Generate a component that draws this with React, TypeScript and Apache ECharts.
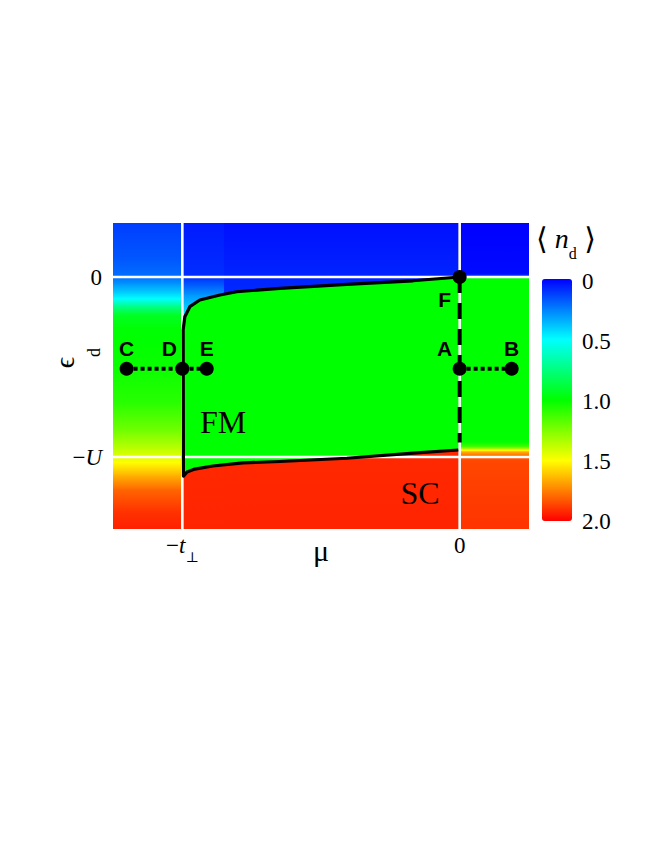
import React, { useEffect, useRef } from 'react';
import * as echarts from 'echarts';

// ---------- axes ----------
const MU_MIN = -1.25;
const MU_MAX = 0.25;
const EPS_MIN = -1.4;
const EPS_MAX = 0.3;
const xTickValues = [-1, 0];
const yTickValues = [0, -1];
const colorbarTicks = [0, 0.5, 1.0, 1.5, 2.0];
const colorStops = ['#0000ff', '#00ffff', '#00ff00', '#ffff00', '#ff0000'];

// ---------- <n_d> background, column bands (mu edges) ----------
const bandEdges = [-1.25, -1.0, -0.85, 0, 0.25];
// band 1: mu < -t
const leftEps = [0.3, 0.1, 0.0, -0.04, -0.09, -0.12, -0.16, -0.21, -0.28, -0.5, -0.7, -0.85, -0.96, -1.0, -1.03, -1.1, -1.18, -1.3, -1.4];
const leftN = [0.12, 0.17, 0.22, 0.3, 0.42, 0.5, 0.72, 0.93, 0.99, 1.02, 1.08, 1.22, 1.38, 1.45, 1.5, 1.65, 1.8, 1.9, 1.94];
// band 2: just right of -t
const kinkEps = [0.3, 0.0, -0.1, -0.2, -0.3, -0.35, -0.97, -0.98, -1.4];
const kinkN = [0.05, 0.09, 0.3, 0.45, 0.6, 1.0, 1.0, 1.92, 1.93];
// band 3: -t < mu < 0
const midEps = [0.3, 0.0, -0.1, -0.11, -0.95, -0.96, -1.4];
const midN = [0.03, 0.07, 0.08, 1.0, 1.0, 1.92, 1.93];
// band 4: mu > 0
const rightEps = [0.3, 0.02, 0.003, -0.003, -0.915, -0.94, -0.955, -0.97, -0.99, -1.02, -1.4];
const rightN = [0.0, 0.02, 0.15, 1.0, 1.0, 1.12, 1.4, 1.65, 1.8, 1.86, 1.9];

// ---------- FM phase boundary ----------
const boundaryMu = [0, -0.168, -0.407, -0.648, -0.804, -0.864, -0.937, -0.973, -0.991, -0.997, -0.996, -0.983, -0.955, -0.89, -0.781, -0.648, -0.407, -0.167, -0.005];
const boundaryEps = [0, -0.021, -0.041, -0.063, -0.082, -0.1, -0.128, -0.165, -0.221, -0.294, -1.106, -1.083, -1.067, -1.05, -1.033, -1.025, -1.007, -0.979, -0.961];
const fmN = 1.0;
const dashedMu = [0, 0];
const dashedEps = [0, -0.92];

// ---------- marked points ----------
const pointNames = ['C', 'D', 'E', 'A', 'B', 'F'];
const pointMu = [-1.201, -1.0, -0.912, 0, 0.1875, 0];
const pointEps = [-0.51, -0.51, -0.51, -0.51, -0.51, 0];
const dottedLeftMu = [-1.201, -0.912];
const dottedRightMu = [0, 0.1875];
const dottedEps = [-0.51, -0.51];

// ---------- region names ----------
const regionNames = ['FM', 'SC'];
const regionMu = [-0.853, -0.143];
const regionEps = [-0.806, -1.2];

// ---------- styles ----------
const SERIF = '"Liberation Serif", "Times New Roman", "DejaVu Serif", serif';
const SANS = '"Liberation Sans", Arial, sans-serif';
const labelPlacement: Record<string, any> = {
  C: { position: 'top', distance: 3, offset: [0, 0] },
  D: { position: 'top', distance: 3, offset: [-13, 0] },
  E: { position: 'top', distance: 3, offset: [0, 0] },
  A: { position: 'top', distance: 3, offset: [-15, 0] },
  B: { position: 'top', distance: 3, offset: [0, 0] },
  F: { position: 'bottom', distance: 5, offset: [-15, 0] },
};

function hexToRgb(h: string) {
  return [parseInt(h.slice(1, 3), 16), parseInt(h.slice(3, 5), 16), parseInt(h.slice(5, 7), 16)];
}
function nColor(v: number) {
  const t = Math.max(0, Math.min(2, v)) / 0.5;
  const i = Math.min(3, Math.floor(t));
  const f = t - i;
  const a = hexToRgb(colorStops[i]);
  const b = hexToRgb(colorStops[i + 1]);
  const c = a.map((x, k) => Math.round(x + (b[k] - x) * f));
  return `rgb(${c[0]},${c[1]},${c[2]})`;
}

function bandCells(m0: number, m1: number, eps: number[], n: number[]) {
  const out: number[][] = [];
  for (let i = 0; i < eps.length - 1; i++) {
    out.push([m0, m1, eps[i], eps[i + 1], n[i], n[i + 1]]);
  }
  return out;
}

export default function App() {
  const ref = useRef<HTMLDivElement>(null);
  useEffect(() => {
    document.body.style.margin = '0';
    const chart = echarts.init(ref.current!, null, { renderer: 'svg' });

    const profiles = [
      [leftEps, leftN],
      [kinkEps, kinkN],
      [midEps, midN],
      [rightEps, rightN],
    ];
    const cells: number[][] = [];
    profiles.forEach((p, k) => {
      cells.push(...bandCells(bandEdges[k], bandEdges[k + 1], p[0], p[1]));
    });

    const whiteLine = (data: number[][]) => ({
      type: 'line',
      data,
      z: 3,
      silent: true,
      showSymbol: false,
      symbol: 'none',
      lineStyle: { color: '#ffffff', width: 2.6 },
    });

    const option: any = {
      animation: false,
      grid: [
        { left: 113, top: 223, width: 416, height: 306 },
        { left: 542, top: 281, width: 30, height: 240 },
      ],
      xAxis: [
        {
          type: 'value',
          min: MU_MIN,
          max: MU_MAX,
          gridIndex: 0,
          axisLine: { show: false },
          axisTick: { show: false },
          splitLine: { show: false },
          name: 'μ',
          nameLocation: 'middle',
          nameGap: 6,
          nameMoveOverlap: false,
          nameTextStyle: { fontFamily: SERIF, fontSize: 30, color: '#000' },
          axisLabel: {
            customValues: xTickValues,
            margin: -2,
            formatter: (v: number) => (v === 0 ? '{m|0}' : '{m|−}{t|t}{s|⊥}'),
            rich: {
              m: { fontFamily: SERIF, fontSize: 23, lineHeight: 37, verticalAlign: 'middle', color: '#000' },
              t: { fontFamily: SERIF, fontSize: 23, lineHeight: 37, verticalAlign: 'middle', fontStyle: 'italic', color: '#000' },
              s: { fontFamily: SERIF, fontSize: 14, lineHeight: 14, verticalAlign: 'bottom', color: '#000' },
            },
          },
        },
        { type: 'value', gridIndex: 1, min: 0, max: 1, show: false },
      ],
      yAxis: [
        {
          type: 'value',
          min: EPS_MIN,
          max: EPS_MAX,
          gridIndex: 0,
          axisLine: { show: false },
          axisTick: { show: false },
          splitLine: { show: false },
          axisLabel: {
            customValues: yTickValues,
            margin: 11,
            formatter: (v: number) => (v === 0 ? '{m|0}' : '{m|−}{u|U}'),
            rich: {
              m: { fontFamily: SERIF, fontSize: 23, color: '#000' },
              u: { fontFamily: SERIF, fontSize: 23, fontStyle: 'italic', color: '#000' },
            },
          },
        },
        {
          type: 'value',
          gridIndex: 1,
          min: 0,
          max: 2,
          inverse: true,
          position: 'right',
          axisLine: { show: false },
          axisTick: { show: false },
          splitLine: { show: false },
          axisLabel: {
            customValues: colorbarTicks,
            margin: 10,
            fontFamily: SERIF,
            fontSize: 23,
            color: '#000',
            formatter: (v: number) => (v === 0 ? '0' : v.toFixed(1)),
          },
        },
      ],
      visualMap: {
        type: 'continuous',
        min: 0,
        max: 2,
        inverse: true,
        orient: 'vertical',
        left: 542,
        top: 279,
        padding: 0,
        itemWidth: 30,
        itemHeight: 242,
        calculable: false,
        seriesIndex: 0,
        dimension: 4,
        inRange: { color: colorStops },
      },
      graphic: [
        {
          type: 'text',
          x: 64,
          y: 362.5,
          rotation: Math.PI / 2,
          style: { text: 'ϵ', font: `28px ${SERIF}`, fill: '#000', align: 'center', verticalAlign: 'middle', textAlign: 'center', textVerticalAlign: 'middle' },
        },
        {
          type: 'text',
          x: 94,
          y: 352.5,
          rotation: Math.PI / 2,
          style: { text: 'd', font: `18px ${SERIF}`, fill: '#000', align: 'center', verticalAlign: 'middle', textAlign: 'center', textVerticalAlign: 'middle' },
        },
        {
          type: 'text',
          x: 566,
          y: 238.5,
          style: {
            text: '{b|⟨}{n| n}{d|d}{b| ⟩}',
            align: 'center',
            verticalAlign: 'middle',
            textAlign: 'center',
            textVerticalAlign: 'middle',
            rich: {
              b: { fontFamily: SERIF, fontSize: 30, lineHeight: 46, verticalAlign: 'middle', fill: '#000', color: '#000' },
              n: { fontFamily: SERIF, fontSize: 28, lineHeight: 46, verticalAlign: 'middle', fontStyle: 'italic', fill: '#000', color: '#000' },
              d: { fontFamily: SERIF, fontSize: 16, lineHeight: 16, verticalAlign: 'bottom', fill: '#000', color: '#000' },
            },
          },
        },
      ],
      series: [
        {
          type: 'custom',
          name: 'nd',
          z: 1,
          clip: true,
          silent: true,
          encode: { x: [0, 1], y: [2, 3] },
          data: cells,
          renderItem: (params: any, api: any) => {
            const m0 = api.value(0), m1 = api.value(1), e0 = api.value(2), e1 = api.value(3);
            const v0 = api.value(4), v1 = api.value(5);
            const p0 = api.coord([m0, e0]);
            const p1 = api.coord([m1, e1]);
            const stops: any[] = [{ offset: 0, color: nColor(v0) }];
            [0.5, 1.0, 1.5].forEach((b) => {
              if ((b - v0) * (b - v1) < 0) stops.push({ offset: (b - v0) / (v1 - v0), color: nColor(b) });
            });
            stops.push({ offset: 1, color: nColor(v1) });
            return {
              type: 'rect',
              shape: { x: p0[0], y: p0[1], width: p1[0] - p0[0] + 0.7, height: p1[1] - p0[1] + 0.7 },
              style: { fill: new echarts.graphic.LinearGradient(0, 0, 0, 1, stops) },
            };
          },
        },
        {
          type: 'custom',
          name: 'FM region',
          z: 2,
          clip: true,
          silent: true,
          data: [[0, 0]],
          renderItem: (params: any, api: any) => {
            const pts = boundaryMu.map((m, i) => api.coord([m, boundaryEps[i]]));
            pts.push(api.coord([0, boundaryEps[boundaryEps.length - 1]]));
            pts.push(api.coord([0, 0]));
            return { type: 'polygon', shape: { points: pts }, style: { fill: nColor(fmN) } };
          },
        },
        ...xTickValues.map((x) => whiteLine([[x, EPS_MIN], [x, EPS_MAX]])),
        ...yTickValues.map((y) => whiteLine([[MU_MIN, y], [MU_MAX, y]])),
        {
          type: 'line',
          z: 4,
          silent: true,
          symbol: 'none',
          data: boundaryMu.map((m, i) => [m, boundaryEps[i]]),
          lineStyle: { color: '#000', width: 3.2, join: 'round' },
        },
        {
          type: 'line',
          z: 5,
          silent: true,
          symbol: 'none',
          data: dashedMu.map((m, i) => [m, dashedEps[i]]),
          lineStyle: { color: '#000', width: 4, type: [16, 10] },
        },
        {
          type: 'line',
          z: 5,
          silent: true,
          symbol: 'none',
          data: dottedLeftMu.map((m, i) => [m, dottedEps[i]]),
          lineStyle: { color: '#000', width: 4, type: [4, 3] },
        },
        {
          type: 'line',
          z: 5,
          silent: true,
          symbol: 'none',
          data: dottedRightMu.map((m, i) => [m, dottedEps[i]]),
          lineStyle: { color: '#000', width: 4, type: [4, 3] },
        },
        {
          type: 'scatter',
          z: 6,
          silent: true,
          symbol: 'circle',
          symbolSize: 14,
          itemStyle: { color: '#000', opacity: 1 },
          data: pointNames.map((n, i) => ({
            name: n,
            value: [pointMu[i], pointEps[i]],
            label: labelPlacement[n],
          })),
          label: {
            show: true,
            formatter: '{b}',
            fontFamily: SANS,
            fontWeight: 'bold',
            fontSize: 21,
            color: '#000',
            opacity: 1,
          },
        },
        {
          type: 'scatter',
          z: 7,
          silent: true,
          symbolSize: 0,
          itemStyle: { opacity: 1 },
          data: regionNames.map((n, i) => ({ name: n, value: [regionMu[i], regionEps[i]] })),
          label: {
            show: true,
            position: 'inside',
            formatter: '{b}',
            fontFamily: SERIF,
            fontSize: 32,
            color: '#000',
          },
        },
      ],
    };
    chart.setOption(option);
    return () => chart.dispose();
  }, []);
  return <div ref={ref} style={{ width: 664, height: 860 }} />;
}
